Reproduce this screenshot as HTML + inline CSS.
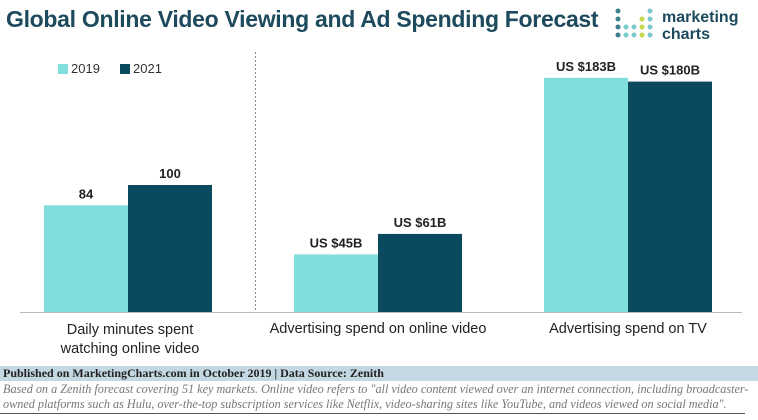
<!DOCTYPE html>
<html><head><style>
body{margin:0;width:758px;height:420px;background:#fff;font-family:"Liberation Sans",sans-serif;overflow:hidden;position:relative}
.t{position:absolute;white-space:nowrap}
</style></head><body>
<div class="t" style="left:6px;top:6px;font-size:23px;font-weight:bold;color:#1d4a5c;letter-spacing:-0.3px">Global Online Video Viewing and Ad Spending Forecast</div>
<svg style="position:absolute;left:614px;top:6px" width="140" height="40">
<g fill="#3d7f8f"><circle cx="4" cy="5" r="2.5"/><circle cx="4" cy="13" r="2.5"/><circle cx="4" cy="21" r="2.5"/><circle cx="4" cy="29" r="2.5"/></g>
<g fill="#7cc9cc"><circle cx="12" cy="21" r="2.5"/><circle cx="12" cy="29" r="2.5"/><circle cx="20" cy="21" r="2.5"/><circle cx="20" cy="29" r="2.5"/><circle cx="36" cy="5" r="2.5"/><circle cx="36" cy="13" r="2.5"/><circle cx="36" cy="21" r="2.5"/><circle cx="36" cy="29" r="2.5"/></g>
<g fill="#c5d94a"><circle cx="28" cy="13" r="2.5"/><circle cx="28" cy="21" r="2.5"/><circle cx="28" cy="29" r="2.5"/></g>
<text x="48" y="16" font-size="16" font-weight="bold" fill="#1d4a5c" font-family="Liberation Sans">marketing</text>
<text x="48" y="33" font-size="16" font-weight="bold" fill="#1d4a5c" font-family="Liberation Sans">charts</text>
</svg>
<div>
<div style="position:absolute;left:58px;top:64px;width:10px;height:10px;background:#80dfdc"></div>
<div class="t" style="left:71px;top:61px;font-size:13px;color:#333">2019</div>
<div style="position:absolute;left:120px;top:64px;width:10px;height:10px;background:#0b4a5e"></div>
<div class="t" style="left:133px;top:61px;font-size:13px;color:#333">2021</div>
</div>
<svg id="c" style="position:absolute;left:0;top:0" width="758" height="420"></svg>
<div class="t" style="left:20px;top:321px;width:220px;text-align:center;font-size:14.5px;color:#222;line-height:19px">Daily minutes spent<br>watching online video</div>
<div class="t" style="left:258px;top:321px;width:240px;text-align:center;font-size:14.5px;color:#222">Advertising spend on online video</div>
<div class="t" style="left:518px;top:321px;width:220px;text-align:center;font-size:14.5px;color:#222">Advertising spend on TV</div>
<div class="t" style="left:0;top:366px;width:758px;height:15px;background:#c4d8e4;font-family:'Liberation Serif',serif;font-size:12px;font-weight:bold;color:#222;padding-left:3px;line-height:15px">Published on MarketingCharts.com in October 2019 | Data Source: Zenith</div>
<div class="t" style="left:3px;top:382px;font-family:'Liberation Serif',serif;font-style:italic;font-size:12.2px;color:#777;line-height:15px">Based on a Zenith forecast covering 51 key markets. Online video refers to "all video content viewed over an internet connection, including broadcaster-<br>owned platforms such as Hulu, over-the-top subscription services like Netflix, video-sharing sites like YouTube, and videos viewed on social media".</div>
<div style="position:absolute;left:0;top:413px;width:745px;height:1px;background:#555"></div>
<script>
const groups=["Daily minutes","Online video ad","TV ad"];
const v2019=[84,45,183];
const v2021=[100,61,180];
const labels2019=["84","US $45B","US $183B"];
const labels2021=["100","US $61B","US $180B"];
const svg=document.getElementById('c');const NS='http://www.w3.org/2000/svg';
const base=312;
function scale(g,v){return g===0?v*1.27:v*1.28;}
const gx=[44,294,544],bw=84;
function el(t,a){const e=document.createElementNS(NS,t);for(const k in a)e.setAttribute(k,a[k]);svg.appendChild(e);return e;}
const ax=el('line',{x1:20,x2:742,y1:base+0.5,y2:base+0.5,stroke:'#bbb'});


const dv=el('line',{x1:255.5,x2:255.5,y1:52,y2:base,stroke:'#888','stroke-dasharray':'2,2'});


groups.forEach((g,i)=>{
 [[v2019,labels2019,'#80dfdc','2019'],[v2021,labels2021,'#0b4a5e','2021']].forEach((s,j)=>{
  const h=scale(i,s[0][i]);const x=gx[i]+j*bw;
  const r=el('rect',{x:x,y:base-h,width:bw,height:h,fill:s[2]});
  
  
  const t=el('text',{x:x+bw/2,y:base-h-7,'text-anchor':'middle','font-size':13,'font-weight':'bold',fill:'#222','font-family':'Liberation Sans'});
  t.textContent=s[1][i];
  
  
 });
});
</script>
</body></html>
